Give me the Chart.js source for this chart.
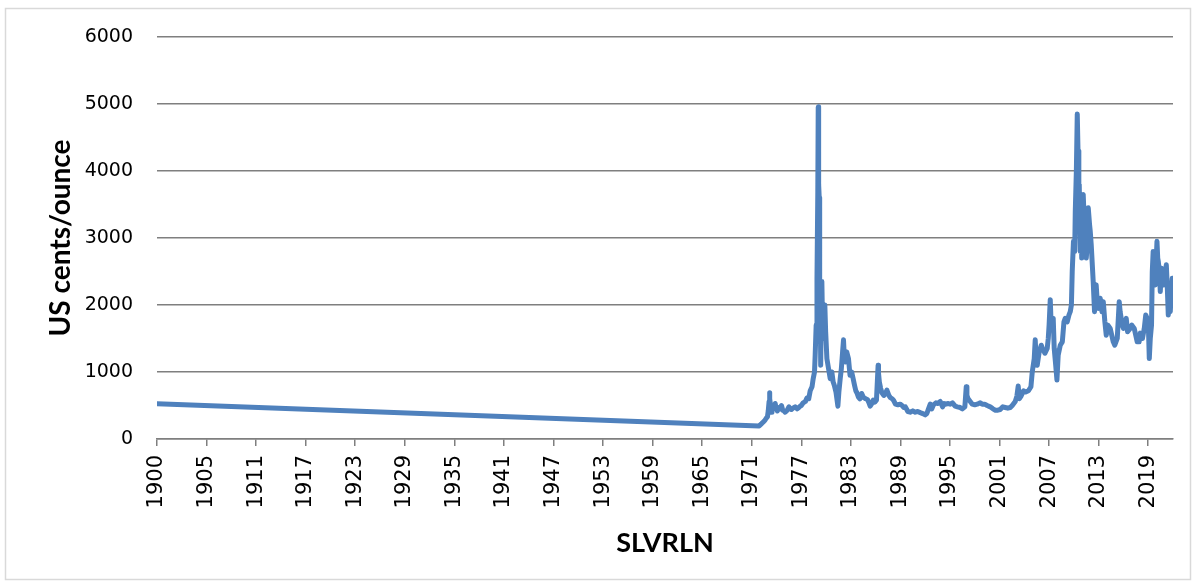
<!DOCTYPE html>
<html>
<head>
<meta charset="utf-8">
<script src="https://cdn.jsdelivr.net/npm/chart.js@4.4.1/dist/chart.umd.min.js"></script>
<style>
  html, body { margin: 0; padding: 0; background: #ffffff; }
  #wrap { position: relative; width: 1197px; height: 586px; }
  canvas { display: block; }
</style>
</head>
<body>
<div id="wrap"><canvas id="c" width="1197" height="586"></canvas></div>
<script>
// Decimal years (x) and silver price in US cents/ounce (y)
const years = [
  1900.0, 1972.9, 1973.2, 1973.4, 1973.6, 1973.75, 1973.9, 1974.0, 1974.1, 1974.15,
  1974.2, 1974.3, 1974.35, 1974.45, 1974.55, 1974.7, 1974.84, 1974.95, 1975.1, 1975.3,
  1975.44, 1975.6, 1975.75, 1975.9, 1976.05, 1976.3, 1976.5, 1976.65, 1976.8, 1977.0,
  1977.26, 1977.5, 1977.7, 1977.86, 1978.0, 1978.23, 1978.5, 1978.67, 1978.9, 1979.08,
  1979.3, 1979.44, 1979.6, 1979.68, 1979.8, 1979.9, 1980.0, 1980.05, 1980.08, 1980.12,
  1980.17, 1980.2, 1980.25, 1980.29, 1980.35, 1980.4, 1980.49, 1980.55, 1980.65, 1980.75,
  1980.85, 1980.95, 1981.1, 1981.3, 1981.5, 1981.7, 1981.86, 1982.0, 1982.2, 1982.43,
  1982.55, 1982.71, 1982.85, 1983.0, 1983.11, 1983.2, 1983.35, 1983.5, 1983.71, 1983.9,
  1984.1, 1984.28, 1984.45, 1984.6, 1984.73, 1984.9, 1985.1, 1985.3, 1985.53, 1985.8,
  1986.0, 1986.2, 1986.34, 1986.5, 1986.7, 1986.9, 1987.1, 1987.3, 1987.35, 1987.45,
  1987.6, 1987.76, 1988.0, 1988.2, 1988.36, 1988.6, 1988.76, 1989.0, 1989.16, 1989.4,
  1989.7, 1989.97, 1990.2, 1990.4, 1990.6, 1990.9, 1991.18, 1991.5, 1991.8, 1992.1,
  1992.4, 1992.7, 1993.0, 1993.2, 1993.4, 1993.61, 1993.8, 1994.0, 1994.3, 1994.5,
  1994.82, 1995.1, 1995.3, 1995.5, 1995.8, 1996.03, 1996.3, 1996.63, 1996.9, 1997.24,
  1997.5, 1997.8, 1997.97, 1998.05, 1998.2, 1998.45, 1998.7, 1999.0, 1999.3, 1999.66,
  1999.9, 2000.2, 2000.5, 2000.87, 2001.2, 2001.5, 2001.8, 2002.08, 2002.4, 2002.69,
  2003.0, 2003.3, 2003.54, 2003.9, 2004.1, 2004.26, 2004.4, 2004.6, 2004.9, 2005.11,
  2005.5, 2005.8, 2005.96, 2006.2, 2006.32, 2006.45, 2006.56, 2006.8, 2007.05, 2007.2,
  2007.5, 2007.77, 2007.9, 2008.0, 2008.14, 2008.25, 2008.38, 2008.5, 2008.62, 2008.8,
  2008.95, 2009.1, 2009.35, 2009.6, 2009.8, 2009.95, 2010.2, 2010.4, 2010.56, 2010.7,
  2010.8, 2010.95, 2011.1, 2011.17, 2011.3, 2011.41, 2011.5, 2011.6, 2011.65, 2011.77,
  2011.89, 2011.95, 2012.0, 2012.13, 2012.3, 2012.5, 2012.62, 2012.74, 2012.9, 2012.98,
  2013.1, 2013.34, 2013.5, 2013.59, 2013.7, 2013.83, 2014.0, 2014.19, 2014.4, 2014.56,
  2014.75, 2014.92, 2015.1, 2015.4, 2015.77, 2015.95, 2016.25, 2016.49, 2016.6, 2016.86,
  2017.0, 2017.34, 2017.5, 2017.82, 2018.0, 2018.31, 2018.67, 2018.9, 2019.04, 2019.3,
  2019.52, 2019.7, 2019.88, 2020.0, 2020.13, 2020.25, 2020.4, 2020.49, 2020.6, 2020.75,
  2020.85, 2021.06, 2021.15, 2021.22, 2021.35, 2021.46, 2021.6, 2021.82, 2021.9, 2022.19,
  2022.3, 2022.43, 2022.55, 2022.67, 2022.8, 2022.91
];
const values = [
  525, 195, 230, 255, 280, 310, 330, 420, 560, 690,
  600, 480, 400, 500, 450, 470, 530, 460, 420, 470,
  450, 500, 430, 420, 400, 430, 480, 450, 440, 460,
  480, 450, 470, 490, 500, 540, 560, 610, 600, 720,
  780, 900, 1000, 1250, 1700, 2400, 3700, 4950, 4960, 3800,
  3600, 2200, 1500, 2300, 1100, 1800, 2350, 1900, 1500, 1700,
  2000, 1600, 1200, 1050, 900, 1000, 850, 800, 700, 490,
  700, 900, 1050, 1300, 1480, 1250, 1150, 1300, 1200, 950,
  1000, 900, 800, 720, 690, 630, 600, 680, 620, 600,
  590, 540, 490, 520, 580, 550, 580, 1100, 980, 850,
  760, 690, 650, 680, 730, 650, 620, 600, 580, 520,
  510, 520, 500, 470, 480, 410, 400, 420, 400, 410,
  394, 380, 360, 380, 450, 520, 450, 510, 540, 530,
  560, 480, 530, 520, 530, 520, 540, 490, 480, 470,
  450, 480, 780, 650, 600, 560, 520, 510, 520, 540,
  520, 520, 500, 480, 450, 430, 430, 440, 480, 470,
  460, 470, 500, 560, 640, 790, 600, 640, 720, 700,
  720, 780, 1000, 1200, 1480, 1150, 1100, 1300, 1400, 1350,
  1280, 1350, 1500, 1700, 2080, 1700, 1750, 1800, 1350, 1100,
  880, 1250, 1400, 1450, 1750, 1800, 1750, 1850, 1900, 2000,
  2500, 2950, 2800, 3400, 4000, 4850, 4300, 3500, 3800, 2800,
  3200, 2700, 3000, 3650, 3100, 2700, 2900, 3450, 3200, 3100,
  2900, 2350, 1900, 2250, 2300, 2050, 1950, 2100, 1900, 2050,
  1750, 1550, 1700, 1650, 1450, 1400, 1500, 2050, 1900, 1700,
  1650, 1800, 1600, 1650, 1700, 1650, 1450, 1450, 1580, 1500,
  1650, 1850, 1800, 1780, 1200, 1500, 1700, 2500, 2800, 2450,
  2300, 2950, 2700, 2650, 2500, 2200, 2550, 2350, 2300, 2600,
  2300, 1850, 2000, 1900, 2200, 2400
];
// Tick positions (decimal years) and the labels shown under them
const tickYears = [1900, 1906, 1912, 1918, 1924, 1930, 1936, 1942, 1948, 1954, 1960,
                   1966, 1972, 1978, 1984, 1990, 1996, 2002, 2008, 2014, 2020];
const tickLabels = ['1900', '1905', '1911', '1917', '1923', '1929', '1935', '1941', '1947', '1953', '1959',
                    '1965', '1971', '1977', '1983', '1989', '1995', '2001', '2007', '2013', '2019'];
const yTicks = [0, 1000, 2000, 3000, 4000, 5000, 6000];

const points = years.map((x, i) => ({ x: x, y: values[i] }));

const frame = {
  id: 'frame',
  beforeDraw(chart) {
    const ctx = chart.ctx;
    ctx.save();
    ctx.fillStyle = '#ffffff';
    ctx.fillRect(0, 0, chart.width, chart.height);
    ctx.strokeStyle = '#d9d9d9';
    ctx.lineWidth = 1.5;
    ctx.strokeRect(5.5, 8.5, 1185, 571);
    ctx.restore();
  }
};

new Chart(document.getElementById('c'), {
  type: 'line',
  data: {
    datasets: [{
      label: 'SLVRLN',
      data: points,
      borderColor: '#4f81bd',
      backgroundColor: '#4f81bd',
      borderWidth: 5,
      pointRadius: 0,
      tension: 0,
      borderJoinStyle: 'round',
      borderCapStyle: 'round',
      fill: false
    }]
  },
  options: {
    responsive: false,
    animation: false,
    devicePixelRatio: 1,
    layout: { padding: { left: 0, top: 37, right: 24, bottom: 0 } },
    plugins: { legend: { display: false }, tooltip: { enabled: false } },
    scales: {
      x: {
        type: 'linear',
        min: 1900,
        max: 2023,
        afterBuildTicks(scale) { scale.ticks = tickYears.map(v => ({ value: v })); },
        afterFit(scale) { scale.height = 147; },
        ticks: {
          autoSkip: false,
          minRotation: 90,
          maxRotation: 90,
          padding: 9,
          color: '#000000',
          font: { family: "'DejaVu Sans', sans-serif", size: 21 },
          callback(value) {
            const i = tickYears.indexOf(value);
            return i >= 0 ? tickLabels[i] : '';
          }
        },
        grid: {
          drawOnChartArea: false,
          drawTicks: true,
          tickLength: 7,
          color: '#7f7f7f',
          lineWidth: 1.5
        },
        border: { display: true, color: '#7f7f7f', width: 1.5 },
        title: {
          display: true,
          text: 'SLVRLN',
          color: '#000000',
          font: { family: 'Lato', size: 27, weight: 'bold' },
          padding: { top: 0, bottom: 27 }
        }
      },
      y: {
        min: 0,
        max: 6000,
        afterBuildTicks(scale) { scale.ticks = yTicks.map(v => ({ value: v })); },
        afterFit(scale) { scale.width = 157; },
        ticks: {
          padding: 24,
          color: '#000000',
          font: { family: "'DejaVu Sans', sans-serif", size: 19 },
          callback(value) { return String(value); }
        },
        grid: {
          drawTicks: false,
          color: '#7f7f7f',
          lineWidth: 1.5
        },
        border: { display: false },
        title: {
          display: true,
          text: 'US cents/ounce',
          color: '#000000',
          font: { family: 'Lato', size: 28, weight: 'bold' },
          padding: { top: 44, bottom: 0 }
        }
      }
    }
  },
  plugins: [frame]
});
</script>
</body>
</html>
